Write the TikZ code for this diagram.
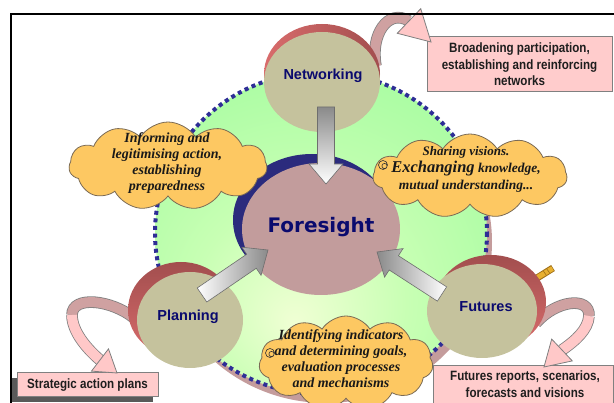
\documentclass[tikz,border=0pt]{standalone}
\usepackage{fontspec}
\setmainfont{Liberation Serif}
\newfontfamily\labelfont{Liberation Sans}
\newfontfamily\boxfont[FakeStretch=0.86]{Liberation Sans}
\newfontfamily\titlefont{DejaVu Sans}
\usetikzlibrary{shapes.geometric,shapes.symbols,calc}

\definecolor{ringout}{HTML}{99FB99}
\definecolor{ringmid}{HTML}{C8FFB4}
\definecolor{ringin}{HTML}{F0FFD4}
\definecolor{ringdot}{HTML}{2E2E96}
\definecolor{ringshadow}{HTML}{C49C9C}
\definecolor{discfill}{HTML}{C5C29D}
\definecolor{crescentlight}{HTML}{D96C6C}
\definecolor{crescentdark}{HTML}{A24E4E}
\definecolor{coreblue}{HTML}{2B2B7D}
\definecolor{corefill}{HTML}{C29C9C}
\definecolor{navytext}{HTML}{0A0A6E}
\definecolor{cloudfill}{HTML}{FDC862}
\definecolor{cloudline}{HTML}{7A6A55}
\definecolor{arrowline}{HTML}{6E6E6E}
\definecolor{arrowgray}{HTML}{8A8A8A}
\definecolor{ribbondark}{HTML}{CFA1A1}
\definecolor{ribbonlight}{HTML}{FFC8C8}
\definecolor{ribbonline}{HTML}{7F7F7F}
\definecolor{boxfill}{HTML}{FFCCCC}
\definecolor{boxline}{HTML}{808080}
\definecolor{boxshadow}{HTML}{595959}
\definecolor{boxtextcolor}{HTML}{1E1E1E}
\definecolor{tubefill}{HTML}{E8B030}
\definecolor{tubeline}{HTML}{A07018}

\pgfdeclareradialshading{ringshade}{\pgfpoint{-4bp}{-14bp}}{%
  color(0bp)=(ringin); color(16bp)=(ringmid); color(44bp)=(ringout); color(72bp)=(ringout)}

% block arrow from tail #1 to tip #2, path options #3
\newcommand\blockarrow[3]{%
  \coordinate (#1-base) at ($(#2)!20pt!(#1)$);
  \path[#3] ($(#1)!8.5pt!90:(#2)$) -- ($(#1-base)!8.5pt!-90:(#1)$)
    -- ($(#1-base)!17pt!-90:(#1)$) -- (#2) -- ($(#1-base)!17pt!90:(#1)$)
    -- ($(#1-base)!8.5pt!90:(#1)$) -- ($(#1)!8.5pt!-90:(#2)$) -- cycle;}

% triangular head of a ribbon arrow: base centre #1, tip #2, half width #3
\newcommand\ribbonhead[3]{%
  \filldraw[fill=ribbonlight, draw=ribbonline, line width=0.8pt]
    ($(#1)!#3!90:(#2)$) -- (#2) -- ($(#1)!#3!-90:(#2)$) -- cycle;}

\tikzset{
  disc/.style={ellipse, fill=discfill, inner sep=0pt},
  core/.style={ellipse, fill=corefill, inner sep=0pt, minimum width=158, minimum height=132},
  disclabel/.style={font=\labelfont\bfseries\fontsize{14.5}{16}\selectfont, text=navytext},
  cloudnode/.style={cloud, cloud puffs=11, cloud puff arc=115, cloud ignores aspect,
    fill=cloudfill, draw=cloudline, line width=0.8pt, inner sep=0pt},
  cloudtext/.style={font=\bfseries\itshape\fontsize{14}{16}\selectfont, align=center, text=black!90},
  blockarrowline/.style={draw=arrowline, line width=0.6pt},
  ribbonedge/.style={draw=ribbonline, line width=11.6pt},
  ribbonbody/.style={line width=10pt},
  pinkbox/.style={rectangle, fill=boxfill, draw=boxline, line width=1pt, inner sep=3pt},
  boxtext/.style={font=\boxfont\bfseries\fontsize{13.5}{16.5}\selectfont, align=center, text=boxtextcolor},
  swirl/.style={draw=black!80, line width=0.6pt},
}

\begin{document}
\begin{tikzpicture}[x=1pt, y=-1pt]
\useasboundingbox (0,0) rectangle (614,403);
\clip (0,0) rectangle (614,403);

% the green ring with its shadow and dotted rim
\fill[ringshadow] (326,242) ellipse [x radius=166, y radius=161];
\shade[shading=ringshade] (321,233) ellipse [x radius=166, y radius=161];
\draw[ringdot, line width=4pt, dash pattern=on 4pt off 3.6pt] (321,233) ellipse [x radius=166, y radius=161];

% central disc
\fill[coreblue] (312,220) ellipse [x radius=79, y radius=66];
\node[core] (foresight) at (321,229) {};
\node[font=\titlefont\bfseries\fontsize{20}{24}\selectfont, text=navytext] (foresight-label) at (321,227) {Foresight};

% result boxes
\node[pinkbox, minimum width=185, minimum height=55, boxtext] (box-net) at (519.5,64.5)
  {Broadening participation,\\establishing and reinforcing\\networks};
\fill[boxshadow] (12,378) rectangle (153,402);
\node[pinkbox, minimum width=141, minimum height=24, boxtext] (box-plan) at (87.5,385) {Strategic action plans};
\node[pinkbox, anchor=north, minimum width=180, minimum height=50] (box-fut) at (523,365) {};
\node[boxtext] (box-fut-text) at (525,384) {Futures reports, scenarios,\\forecasts and visions};

% ribbon arrows from the outer discs to the boxes
\coordinate (netOut) at (376,66);
\coordinate (netHead) at (409,21);
\coordinate (netTip) at (431,42);
\draw[ribbonedge] (netOut) .. controls (370,35) and (388,8) .. (netHead);
\draw[ribbonbody, ribbondark] (netOut) .. controls (370,35) and (388,8) .. (netHead);
\ribbonhead{netHead}{netTip}{17pt}

\coordinate (planOut) at (134,318);
\coordinate (planBend) at (72,315);
\coordinate (planHead) at (100,360);
\coordinate (planTip) at (117,373);
\draw[ribbonedge] (planOut) .. controls (112,300) and (72,295) .. (planBend);
\draw[ribbonedge] (planBend) .. controls (72,331) and (86,348) .. (planHead);
\draw[ribbonbody, ribbondark] (planOut) .. controls (112,300) and (72,295) .. (planBend);
\draw[ribbonbody, ribbonlight] (planBend) .. controls (72,331) and (86,348) .. (planHead);
\ribbonhead{planHead}{planTip}{14pt}

\coordinate (futOut) at (536,323);
\coordinate (futBend) at (589,316);
\coordinate (futHead) at (562,350);
\coordinate (futTip) at (544,367);
\draw[ribbonedge] (futOut) .. controls (556,300) and (590,296) .. (futBend);
\draw[ribbonedge] (futBend) .. controls (588,330) and (575,341) .. (futHead);
\draw[ribbonbody, ribbondark] (futOut) .. controls (556,300) and (590,296) .. (futBend);
\draw[ribbonbody, ribbonlight] (futBend) .. controls (588,330) and (575,341) .. (futHead);
\ribbonhead{futHead}{futTip}{15pt}

% outer discs with their coloured rims
\shade[left color=crescentlight, right color=crescentdark] (322,74) ellipse [x radius=58, y radius=50];
\node[disc, minimum width=116, minimum height=100] (networking) at (322,82) {};
\node[disclabel] (networking-label) at (323,76) {Networking};

\shade[bottom color=crescentlight, top color=crescentdark] (181,310) ellipse [x radius=53, y radius=48];
\node[disc, minimum width=106, minimum height=96] (planning) at (190,320) {};
\node[disclabel] (planning-label) at (188,317) {Planning};

\draw[tubeline, line width=7pt] (537,278) -- (553,268);
\draw[tubefill, line width=5pt] (537.5,277.5) -- (552.5,268.5);
\draw[tubeline, line width=0.6pt] (543,270.5) -- (546.5,275.5) (546.5,268.5) -- (550,273.5);
\shade[bottom color=crescentlight, top color=crescentdark] (491,302) ellipse [x radius=55, y radius=47];
\node[disc, minimum width=110, minimum height=94] (futures) at (482,311) {};
\node[disclabel] (futures-label) at (486,307) {Futures};

% block arrows into the central disc
\coordinate (netTail) at (326,107);
\coordinate (netPoint) at (326,184);
\coordinate (planTail) at (202,295);
\coordinate (planPoint) at (268,250);
\coordinate (futTail) at (442,294);
\coordinate (futPoint) at (377,252);
\blockarrow{netTail}{netPoint}{blockarrowline, top color=arrowgray, bottom color=white}
\blockarrow{planTail}{planPoint}{blockarrowline, left color=white, right color=arrowgray}
\blockarrow{futTail}{futPoint}{blockarrowline, left color=arrowgray, right color=white}

% clouds
\node[cloudnode, minimum width=198, minimum height=88] (cloud-inform) at (168,166) {};
\node[cloudtext] (cloud-inform-text) at (167,163)
  {Informing and\\legitimising action,\\establishing\\preparedness};

\node[cloudnode, minimum width=194, minimum height=84] (cloud-share) at (470,176) {};
\node[cloudtext, font=\bfseries\itshape\fontsize{13.5}{17}\selectfont] (cloud-share-text) at (466,169)
  {{\fontsize{13}{17}\selectfont Sharing visions.}\\
   {\fontsize{16.5}{17}\selectfont Exchanging} knowledge,\\
   mutual understanding...};
\draw[swirl] (383,165) circle (4.5) (384.5,166) circle (2.6);

\node[cloudnode, minimum width=174, minimum height=94] (cloud-ident) at (346,363) {};
\node[cloudtext] (cloud-ident-text) at (341,359)
  {Identifying indicators\\and determining goals,\\evaluation processes\\and mechanisms};
\draw[swirl] (270,353) circle (4.5) (271.5,354) circle (2.6);

% frame
\draw[black, line width=1.5pt] (11,403) -- (11,14) -- (614,14);
\end{tikzpicture}
\end{document}
